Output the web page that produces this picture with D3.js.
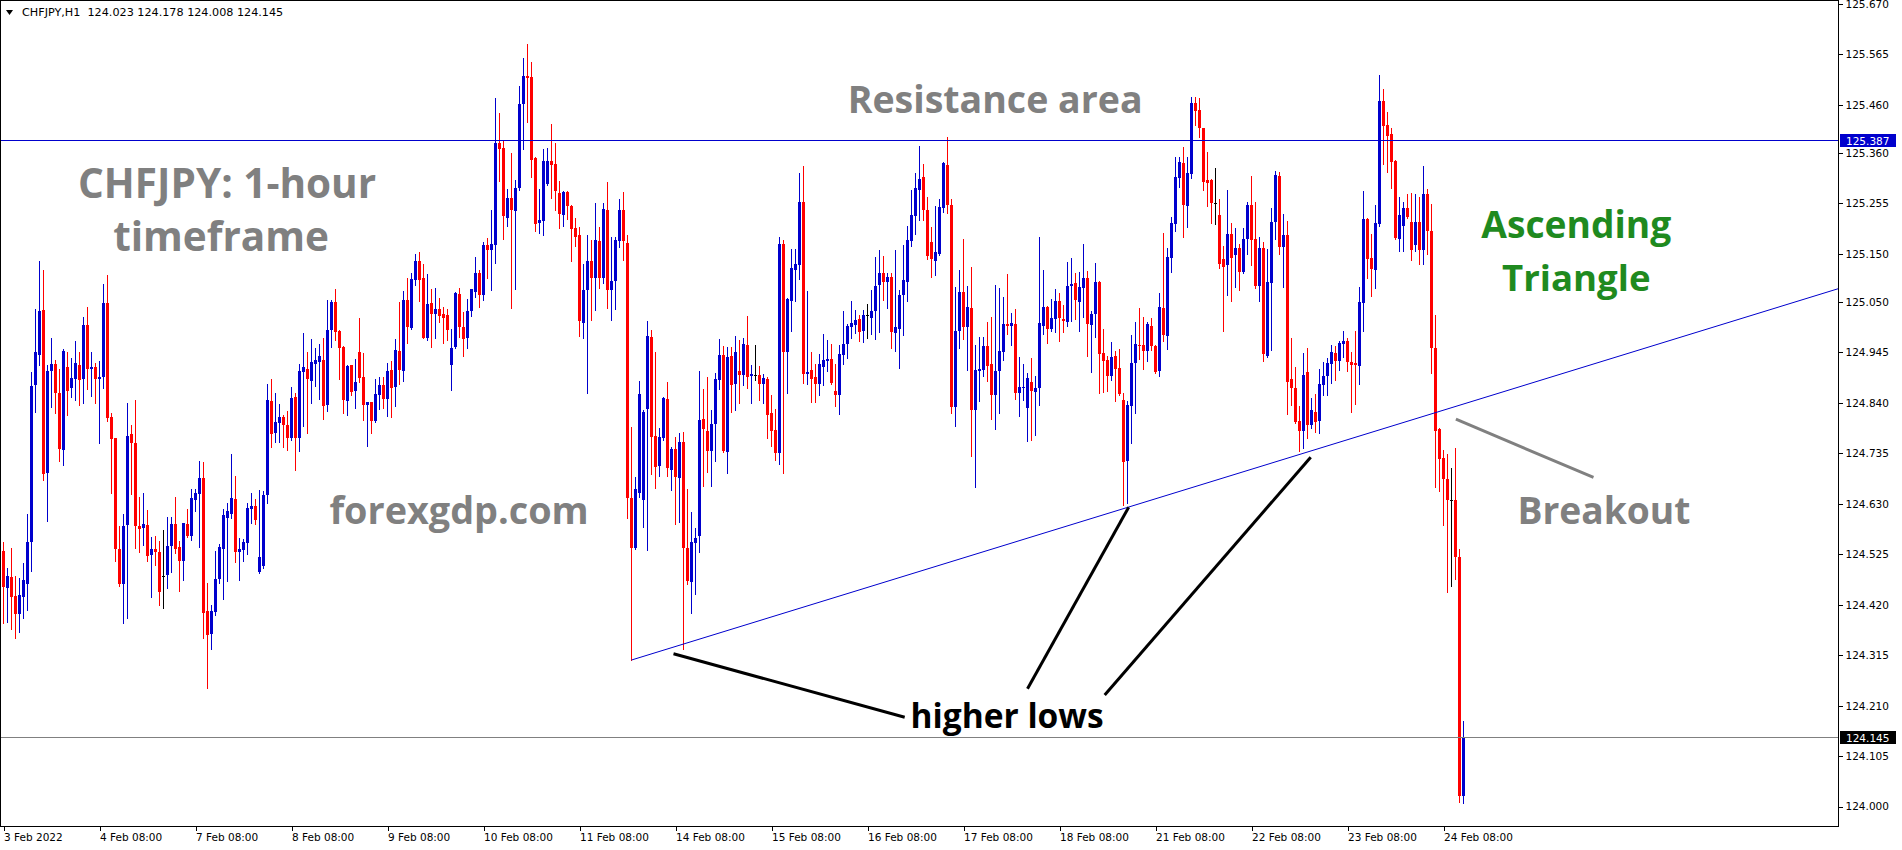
<!DOCTYPE html>
<html><head><meta charset="utf-8">
<script src="https://cdn.jsdelivr.net/npm/d3@7"></script>
<style>html,body{margin:0;padding:0;background:#fff;overflow:hidden}svg{display:block}</style>
</head><body>
<svg id="chart" width="1902" height="850"></svg>
<script>
// ---------------- DATA (CHFJPY H1, one entry per hourly bar) ----------------
const symbolTitle = "CHFJPY,H1";
const opens = [
124.532,124.455,124.477,124.438,124.400,124.437,124.464,124.551,124.878,124.940,
125.033,124.695,124.907,124.921,124.860,124.742,124.915,124.872,124.890,124.919,
124.890,125.002,124.911,124.915,124.890,124.894,125.048,124.810,124.766,124.536,
124.464,124.586,124.775,124.756,124.584,124.580,124.586,124.524,124.536,124.530,
124.479,124.482,124.542,124.588,124.540,124.510,124.588,124.563,124.638,124.651,
124.684,124.407,124.360,124.404,124.474,124.535,124.601,124.609,124.640,124.530,
124.534,124.549,124.620,124.625,124.489,124.501,124.648,124.844,124.778,124.798,
124.811,124.793,124.766,124.852,124.768,124.905,124.911,124.886,124.920,124.925,
124.929,124.836,124.992,125.050,124.990,124.957,124.844,124.919,124.865,124.946,
124.894,124.836,124.842,124.802,124.856,124.877,124.848,124.908,124.873,124.948,
124.906,125.054,124.996,125.096,125.135,125.099,124.974,125.048,125.025,125.035,
125.024,125.022,124.918,124.957,125.067,124.998,124.976,125.031,125.071,125.111,
125.065,125.169,125.158,125.169,125.381,125.370,125.225,125.266,125.239,125.287,
125.462,125.520,125.518,125.350,125.214,125.219,125.296,125.343,125.337,125.277,
125.231,125.279,125.250,125.204,125.189,125.007,125.074,125.135,125.099,125.177,
125.099,125.241,125.074,125.094,125.177,125.241,125.173,124.642,124.539,124.653,
124.638,124.827,124.977,124.772,124.709,124.768,124.849,124.701,124.745,124.684,
124.759,124.539,124.467,124.548,124.564,124.807,124.782,124.740,124.797,124.888,
124.940,124.738,124.938,124.880,124.907,124.899,124.961,124.896,124.898,124.899,
124.880,124.890,124.819,124.784,124.736,125.171,124.946,125.053,125.117,125.127,
125.259,124.901,124.909,124.894,124.880,124.915,124.928,124.932,124.865,124.857,
124.940,124.962,124.997,125.003,125.015,124.990,125.022,125.017,125.032,125.086,
125.110,125.092,125.101,124.986,124.994,125.065,125.092,125.177,125.229,125.284,
125.310,125.242,125.175,125.136,125.150,125.246,125.335,125.252,124.832,124.990,
125.071,124.997,125.037,124.826,124.907,124.909,124.959,124.920,124.857,124.907,
124.945,125.005,125.001,125.005,124.861,124.872,124.830,124.884,124.863,124.870,
125.001,125.040,124.994,125.015,125.051,125.015,125.009,125.084,125.089,125.049,
125.080,125.100,125.003,125.024,125.092,124.944,124.930,124.895,124.938,124.913,
124.845,124.720,124.834,124.922,124.961,124.961,124.949,125.001,124.959,124.907,
125.038,124.980,125.142,125.213,125.307,125.340,125.250,125.317,125.463,125.450,
125.411,125.304,125.304,125.255,125.232,125.140,125.126,125.192,125.148,125.163,
125.113,125.180,125.252,125.180,125.084,125.162,124.938,125.089,125.216,125.313,
125.164,125.190,124.889,124.871,124.803,124.781,124.905,124.793,124.821,124.803,
124.877,124.896,124.920,124.943,124.928,124.963,124.969,124.925,124.922,124.917,
125.047,125.222,125.142,125.116,125.212,125.469,125.418,125.399,125.343,125.180,
125.209,125.246,125.217,125.168,125.217,125.158,125.274,125.198,124.955,124.786,
124.725,124.681,124.637,124.638,124.519,124.023];
const highs = [
124.550,124.496,124.539,124.480,124.475,124.506,124.609,124.905,125.035,125.135,
125.116,124.919,124.976,124.929,124.910,124.952,124.946,124.934,124.969,124.946,
125.018,125.039,124.946,124.922,124.927,125.087,125.106,124.820,124.766,124.584,
124.609,124.839,124.794,124.846,124.645,124.652,124.617,124.561,124.564,124.553,
124.575,124.602,124.602,124.645,124.553,124.590,124.619,124.661,124.661,124.720,
124.717,124.466,124.420,124.532,124.546,124.620,124.632,124.734,124.688,124.559,
124.556,124.632,124.653,124.641,124.659,124.657,124.879,124.890,124.861,124.838,
124.815,124.823,124.873,124.861,124.921,124.985,124.946,124.973,124.954,124.963,
124.975,125.054,125.054,125.077,124.992,124.958,124.919,124.919,124.931,125.017,
124.944,124.842,124.842,124.890,124.894,124.894,124.923,124.928,124.973,125.050,
125.073,125.100,125.110,125.150,125.155,125.129,125.108,125.077,125.080,125.059,
125.040,125.035,124.994,125.071,125.079,125.029,125.056,125.077,125.144,125.117,
125.175,125.183,125.241,125.474,125.443,125.387,125.285,125.360,125.304,125.499,
125.558,125.587,125.549,125.352,125.285,125.368,125.370,125.420,125.381,125.302,
125.281,125.281,125.252,125.225,125.206,125.129,125.189,125.179,125.256,125.206,
125.256,125.300,125.185,125.185,125.264,125.279,125.189,124.790,124.686,124.886,
124.825,125.010,124.991,124.946,124.788,124.853,124.884,124.749,124.770,124.777,
124.780,124.661,124.613,124.580,124.907,124.869,124.894,124.825,124.903,124.973,
124.958,124.957,124.957,124.979,124.971,124.976,125.021,124.919,124.961,124.917,
124.900,124.894,124.857,124.828,125.186,125.179,125.059,125.161,125.160,125.318,
125.333,125.073,124.946,124.921,124.942,124.984,124.971,124.963,124.921,124.961,
125.032,125.004,125.052,125.033,125.023,125.033,125.046,125.075,125.144,125.158,
125.146,125.110,125.110,125.159,125.074,125.169,125.208,125.284,125.318,125.375,
125.338,125.268,125.206,125.250,125.264,125.342,125.393,125.264,125.082,125.117,
125.182,125.083,125.123,124.961,124.977,124.977,125.009,125.019,125.086,125.080,
125.061,125.109,125.028,125.035,124.936,124.920,124.903,124.934,124.895,125.186,
125.117,125.042,125.057,125.077,125.069,125.044,125.134,125.142,125.111,125.112,
125.171,125.114,125.032,125.131,125.094,124.994,124.938,124.967,124.947,124.953,
124.861,124.843,124.981,125.009,125.038,125.019,125.009,125.017,124.961,125.069,
125.194,125.163,125.227,125.352,125.352,125.373,125.352,125.477,125.476,125.474,
125.413,125.363,125.306,125.329,125.265,125.167,125.284,125.215,125.203,125.171,
125.203,125.259,125.312,125.259,125.186,125.175,125.160,125.246,125.322,125.320,
125.234,125.219,124.976,124.915,124.834,124.943,124.955,124.851,124.859,124.910,
124.925,124.933,124.960,124.958,124.968,124.989,124.976,124.945,124.989,125.081,
125.280,125.224,125.192,125.251,125.522,125.493,125.445,125.412,125.346,125.268,
125.257,125.275,125.277,125.275,125.268,125.332,125.285,125.254,125.022,124.788,
124.742,124.734,124.704,124.746,124.536,124.178];
const lows = [
124.381,124.385,124.369,124.350,124.364,124.392,124.409,124.490,124.822,124.919,
124.679,124.595,124.832,124.820,124.720,124.711,124.815,124.853,124.846,124.836,
124.840,124.869,124.855,124.840,124.756,124.872,124.803,124.653,124.512,124.460,
124.383,124.393,124.650,124.539,124.530,124.544,124.510,124.437,124.502,124.420,
124.414,124.455,124.489,124.528,124.449,124.471,124.560,124.555,124.616,124.541,
124.350,124.247,124.327,124.399,124.465,124.433,124.470,124.600,124.508,124.472,
124.512,124.526,124.591,124.589,124.486,124.497,124.632,124.749,124.758,124.759,
124.748,124.742,124.763,124.700,124.740,124.792,124.778,124.840,124.876,124.848,
124.807,124.824,124.957,124.970,124.890,124.819,124.815,124.856,124.830,124.883,
124.804,124.750,124.777,124.800,124.828,124.830,124.813,124.811,124.834,124.879,
124.886,124.965,124.994,125.085,125.052,124.974,124.971,124.957,124.974,125.009,
124.964,124.971,124.867,124.955,124.978,124.938,124.955,125.021,125.061,125.040,
125.054,125.100,125.075,125.132,125.302,125.181,125.208,125.038,125.077,125.283,
125.369,125.425,125.310,125.198,125.193,125.189,125.294,125.266,125.241,125.204,
125.208,125.223,125.136,125.167,124.980,124.976,124.860,125.013,125.033,125.080,
125.089,125.038,125.013,125.036,125.165,125.137,124.600,124.305,124.537,124.645,
124.582,124.534,124.693,124.663,124.688,124.763,124.688,124.659,124.588,124.593,
124.328,124.463,124.402,124.442,124.530,124.668,124.697,124.668,124.720,124.869,
124.738,124.695,124.822,124.826,124.840,124.878,124.871,124.840,124.887,124.846,
124.840,124.767,124.751,124.722,124.713,124.695,124.861,124.990,125.053,125.098,
124.882,124.880,124.842,124.842,124.857,124.878,124.907,124.880,124.834,124.817,
124.921,124.934,124.974,124.986,124.969,124.967,124.974,124.984,124.972,124.988,
125.055,125.038,124.955,124.949,124.913,124.982,125.051,125.166,125.192,125.221,
125.220,125.140,125.101,125.107,125.148,125.238,125.236,124.818,124.791,124.955,
124.972,124.909,124.730,124.666,124.843,124.895,124.886,124.807,124.786,124.820,
124.930,124.984,124.961,124.849,124.813,124.845,124.761,124.763,124.774,124.836,
124.984,124.965,124.990,124.988,124.969,124.988,125.001,125.011,125.015,124.990,
125.019,124.938,124.905,124.978,124.861,124.863,124.865,124.888,124.843,124.857,
124.628,124.631,124.756,124.820,124.932,124.911,124.928,124.951,124.903,124.897,
124.969,124.953,125.113,125.197,125.290,125.186,125.207,125.307,125.418,125.394,
125.282,125.250,125.215,125.213,125.121,124.990,125.065,125.053,125.082,125.074,
125.110,125.150,125.126,125.080,125.053,124.927,124.935,124.950,125.180,125.150,
125.082,124.816,124.836,124.798,124.740,124.747,124.767,124.788,124.780,124.778,
124.856,124.857,124.882,124.887,124.909,124.935,124.907,124.821,124.838,124.880,
124.989,125.100,125.062,125.079,125.209,125.338,125.320,125.288,125.180,125.156,
125.156,125.224,125.138,125.156,125.130,125.128,125.150,124.902,124.664,124.657,
124.586,124.446,124.458,124.473,124.010,124.008];
const closes = [
124.456,124.480,124.437,124.400,124.440,124.471,124.550,124.875,124.946,125.031,
124.693,124.906,124.921,124.861,124.744,124.948,124.865,124.892,124.923,124.888,
125.002,124.911,124.915,124.890,124.894,125.048,124.809,124.765,124.537,124.464,
124.584,124.772,124.756,124.584,124.578,124.588,124.522,124.536,124.530,124.447,
124.479,124.542,124.588,124.536,124.511,124.590,124.563,124.642,124.652,124.684,
124.403,124.358,124.406,124.474,124.541,124.607,124.616,124.642,124.530,124.536,
124.551,124.621,124.625,124.596,124.519,124.648,124.846,124.775,124.800,124.811,
124.793,124.768,124.850,124.768,124.906,124.915,124.890,124.925,124.929,124.938,
124.834,124.992,125.050,124.988,124.955,124.847,124.917,124.863,124.883,124.892,
124.836,124.842,124.802,124.858,124.877,124.848,124.906,124.870,124.950,124.908,
125.054,124.998,125.098,125.135,125.096,124.976,125.046,125.025,125.035,125.021,
125.017,124.992,124.954,125.069,124.997,124.973,125.031,125.076,125.111,125.065,
125.169,125.158,125.171,125.381,125.368,125.228,125.266,125.241,125.287,125.462,
125.520,125.516,125.346,125.212,125.221,125.343,125.343,125.335,125.281,125.234,
125.279,125.250,125.202,125.185,125.011,125.075,125.135,125.099,125.179,125.099,
125.244,125.074,125.094,125.179,125.241,125.177,124.642,124.539,124.661,124.859,
124.822,124.980,124.770,124.707,124.770,124.851,124.705,124.745,124.686,124.759,
124.539,124.469,124.551,124.559,124.804,124.785,124.740,124.797,124.890,124.940,
124.740,124.936,124.878,124.946,124.899,124.963,124.894,124.901,124.898,124.880,
124.892,124.815,124.782,124.736,125.171,124.945,125.057,125.121,125.130,125.259,
124.901,124.905,124.890,124.880,124.921,124.930,124.932,124.882,124.857,124.942,
124.963,125.001,125.007,125.012,124.988,125.023,125.022,125.031,125.084,125.110,
125.092,125.101,124.988,124.998,125.065,125.096,125.179,125.231,125.287,125.306,
125.242,125.146,125.140,125.154,125.248,125.340,125.252,124.832,124.990,125.071,
124.997,125.040,124.826,124.909,124.911,124.959,124.917,124.857,124.907,124.947,
125.005,124.999,125.007,124.861,124.874,124.874,124.892,124.865,124.872,125.007,
125.040,124.994,125.017,125.053,125.017,125.011,125.083,125.088,125.055,125.081,
125.100,125.005,125.026,125.092,124.942,124.928,124.897,124.936,124.911,124.859,
124.718,124.836,124.924,124.963,124.959,124.949,125.005,124.959,124.905,125.040,
124.982,125.144,125.215,125.309,125.342,125.252,125.319,125.463,125.448,125.411,
125.300,125.298,125.255,125.255,125.130,125.123,125.192,125.142,125.163,125.113,
125.180,125.252,125.178,125.084,125.163,124.942,125.092,125.216,125.315,125.164,
125.190,124.883,124.872,124.801,124.781,124.898,124.793,124.826,124.801,124.880,
124.897,124.922,124.945,124.928,124.965,124.968,124.925,124.918,124.918,125.050,
125.222,125.140,125.118,125.215,125.469,125.416,125.396,125.341,125.183,125.231,
125.246,125.227,125.158,125.217,125.158,125.274,125.197,124.955,124.781,124.724,
124.681,124.637,124.637,124.519,124.023,124.145];

const xTickBars = [0,24,48,72,96,120,144,168,192,216,240,264,288,312,336,360];
const xTickLabels = ["3 Feb 2022","4 Feb 08:00","7 Feb 08:00","8 Feb 08:00","9 Feb 08:00",
  "10 Feb 08:00","11 Feb 08:00","14 Feb 08:00","15 Feb 08:00","16 Feb 08:00","17 Feb 08:00",
  "18 Feb 08:00","21 Feb 08:00","22 Feb 08:00","23 Feb 08:00","24 Feb 08:00"];
const yTickValues = [125.670,125.565,125.460,125.360,125.255,125.150,125.050,124.945,
  124.840,124.735,124.630,124.525,124.420,124.315,124.210,124.105,124.000];

const resistanceLevel = 125.387;
const bidLevel = 124.145;
// trendline anchors: [bar index, price]
const trendAnchors = [[157, 124.305], [280, 124.620]];
// hand-drawn pointer lines: [[bar, price], [bar, price]]
const higherLowPointers = [
  [[167.5, 124.318], [225.3, 124.186]],
  [[256.0, 124.245], [281.3, 124.623]],
  [[275.3, 124.232], [326.8, 124.727]]
];
const breakoutPointer = [[363.1, 124.806], [397.5, 124.685]];

// ---------------- DRAWING ----------------
const bullColor = "#0000cd", bearColor = "#ff0000", dojiColor = "#000000";
const svg = d3.select("#chart");
const W = 1902, H = 850, plotR = 1838, plotB = 826;

const x = d3.scaleLinear().domain([-0.875, 458.625]).range([0, plotR]);
const y = d3.scaleLinear().domain([124.0, 125.67]).range([806.6, 4]);

svg.append("rect").attr("width", W).attr("height", H).attr("fill", "#fff");

svg.append("defs").append("clipPath").attr("id", "clip")
  .append("rect").attr("x", 0).attr("y", 0).attr("width", plotR).attr("height", plotB);

const bars = opens.map((o, i) => ({i, o, h: highs[i], l: lows[i], c: closes[i]}));
const col = d => d.c > d.o ? bullColor : (d.c < d.o ? bearColor : dojiColor);

const plot = svg.append("g").attr("clip-path", "url(#clip)");

// candles
const cg = plot.append("g").attr("shape-rendering", "crispEdges");
cg.selectAll("line.wick").data(bars).join("line").attr("class", "wick")
  .attr("x1", d => x(d.i)).attr("x2", d => x(d.i))
  .attr("y1", d => Math.round(y(d.h))).attr("y2", d => Math.round(y(d.l)) + 1)
  .attr("stroke", col).attr("stroke-width", 1);
cg.selectAll("rect.body").data(bars).join("rect").attr("class", "body")
  .attr("x", d => x(d.i) - 1.5).attr("width", 3)
  .attr("y", d => Math.round(y(Math.max(d.o, d.c))))
  .attr("height", d => Math.max(1, Math.round(y(Math.min(d.o, d.c))) - Math.round(y(Math.max(d.o, d.c)))))
  .attr("fill", col);

// horizontal levels
plot.append("line").attr("x1", 0).attr("x2", plotR)
  .attr("y1", Math.round(y(resistanceLevel)) + 0.5).attr("y2", Math.round(y(resistanceLevel)) + 0.5)
  .attr("stroke", bullColor).attr("stroke-width", 1).attr("shape-rendering", "crispEdges");
plot.append("line").attr("x1", 0).attr("x2", plotR)
  .attr("y1", Math.round(y(bidLevel)) + 0.5).attr("y2", Math.round(y(bidLevel)) + 0.5)
  .attr("stroke", "#808080").attr("stroke-width", 1).attr("shape-rendering", "crispEdges");

// trendline (ray to the right)
const slope = (trendAnchors[1][1] - trendAnchors[0][1]) / (trendAnchors[1][0] - trendAnchors[0][0]);
const endBar = x.invert(plotR);
plot.append("line")
  .attr("x1", x(trendAnchors[0][0])).attr("y1", y(trendAnchors[0][1]))
  .attr("x2", x(endBar)).attr("y2", y(trendAnchors[0][1] + slope * (endBar - trendAnchors[0][0])))
  .attr("stroke", bullColor).attr("stroke-width", 1);

// pointer lines
plot.selectAll("line.ptr").data(higherLowPointers).join("line").attr("class", "ptr")
  .attr("x1", d => x(d[0][0])).attr("y1", d => y(d[0][1]))
  .attr("x2", d => x(d[1][0])).attr("y2", d => y(d[1][1]))
  .attr("stroke", "#000").attr("stroke-width", 3);
plot.append("line")
  .attr("x1", x(breakoutPointer[0][0])).attr("y1", y(breakoutPointer[0][1]))
  .attr("x2", x(breakoutPointer[1][0])).attr("y2", y(breakoutPointer[1][1]))
  .attr("stroke", "#808080").attr("stroke-width", 3);

// annotation texts
const font = "'Open Sans', 'DejaVu Sans', sans-serif";
const ann = [
  {t: "CHFJPY: 1-hour", b: 55.9, p: 125.266, c: "#808080", s: 40.5},
  {t: "timeframe",       b: 54.4, p: 125.156, c: "#808080", s: 40.5},
  {t: "Resistance area", b: 247.9, p: 125.443, c: "#808080", s: 37.5},
  {t: "forexgdp.com",    b: 113.9, p: 124.588, c: "#808080", s: 37.8},
  {t: "Ascending",       b: 393.2, p: 125.183, c: "#1f8a1f", s: 37.2},
  {t: "Triangle",        b: 393.2, p: 125.073, c: "#1f8a1f", s: 36.6},
  {t: "Breakout",        b: 400.1, p: 124.588, c: "#808080", s: 37.2},
  {t: "higher lows",     b: 250.9, p: 124.164, c: "#000000", s: 33.5}
];
svg.append("g").selectAll("text").data(ann).join("text")
  .attr("x", d => x(d.b)).attr("y", d => y(d.p))
  .attr("text-anchor", "middle").attr("font-family", font).attr("font-weight", 700)
  .attr("font-size", d => d.s).attr("fill", d => d.c).text(d => d.t);

// frame
svg.append("rect").attr("x", 0.5).attr("y", 0.5).attr("width", plotR).attr("height", plotB)
  .attr("fill", "none").attr("stroke", "#000").attr("stroke-width", 1).attr("shape-rendering", "crispEdges");

// right price axis
const axisFont = "'DejaVu Sans', sans-serif";
const ya = svg.append("g").attr("transform", `translate(${plotR + 0.5},0)`)
  .call(d3.axisRight(y).tickValues(yTickValues).tickSize(4).tickFormat(d3.format(".3f")));
ya.select(".domain").remove();
ya.selectAll("line").attr("stroke", "#000").attr("shape-rendering", "crispEdges");
ya.selectAll("text").attr("font-family", axisFont).attr("font-size", 10.5).attr("fill", "#000").attr("x", 7);

// bottom time axis
const xa = svg.append("g").attr("transform", `translate(0,${plotB + 0.5})`)
  .call(d3.axisBottom(x).tickValues(xTickBars).tickSize(4).tickFormat((d, i) => xTickLabels[i]));
xa.select(".domain").remove();
xa.selectAll("line").attr("stroke", "#000").attr("shape-rendering", "crispEdges");
xa.selectAll("text").attr("font-family", axisFont).attr("font-size", 10.5).attr("fill", "#000")
  .attr("text-anchor", "start").attr("x", 0).attr("y", 7);

// price labels on the axis
function priceTag(level, bg) {
  const yy = Math.round(y(level));
  svg.append("rect").attr("x", plotR + 2).attr("y", yy - 6).attr("width", 56).attr("height", 13)
    .attr("fill", bg).attr("shape-rendering", "crispEdges");
  svg.append("text").attr("x", plotR + 8).attr("y", yy + 4.5).attr("font-family", axisFont)
    .attr("font-size", 10.5).attr("fill", "#fff").text(d3.format(".3f")(level));
}
priceTag(resistanceLevel, bullColor);
priceTag(bidLevel, "#000");

// header
const last = bars[bars.length - 1];
svg.append("path").attr("d", "M6,10 L13,10 L9.5,15 Z").attr("fill", "#000");
svg.append("text").attr("x", 22).attr("y", 16).attr("font-family", axisFont).attr("font-size", 11.2)
  .attr("fill", "#000").style("white-space", "pre")
  .text(`${symbolTitle}  ${[last.o, last.h, last.l, last.c].map(d3.format(".3f")).join(" ")}`);
</script>
</body></html>
